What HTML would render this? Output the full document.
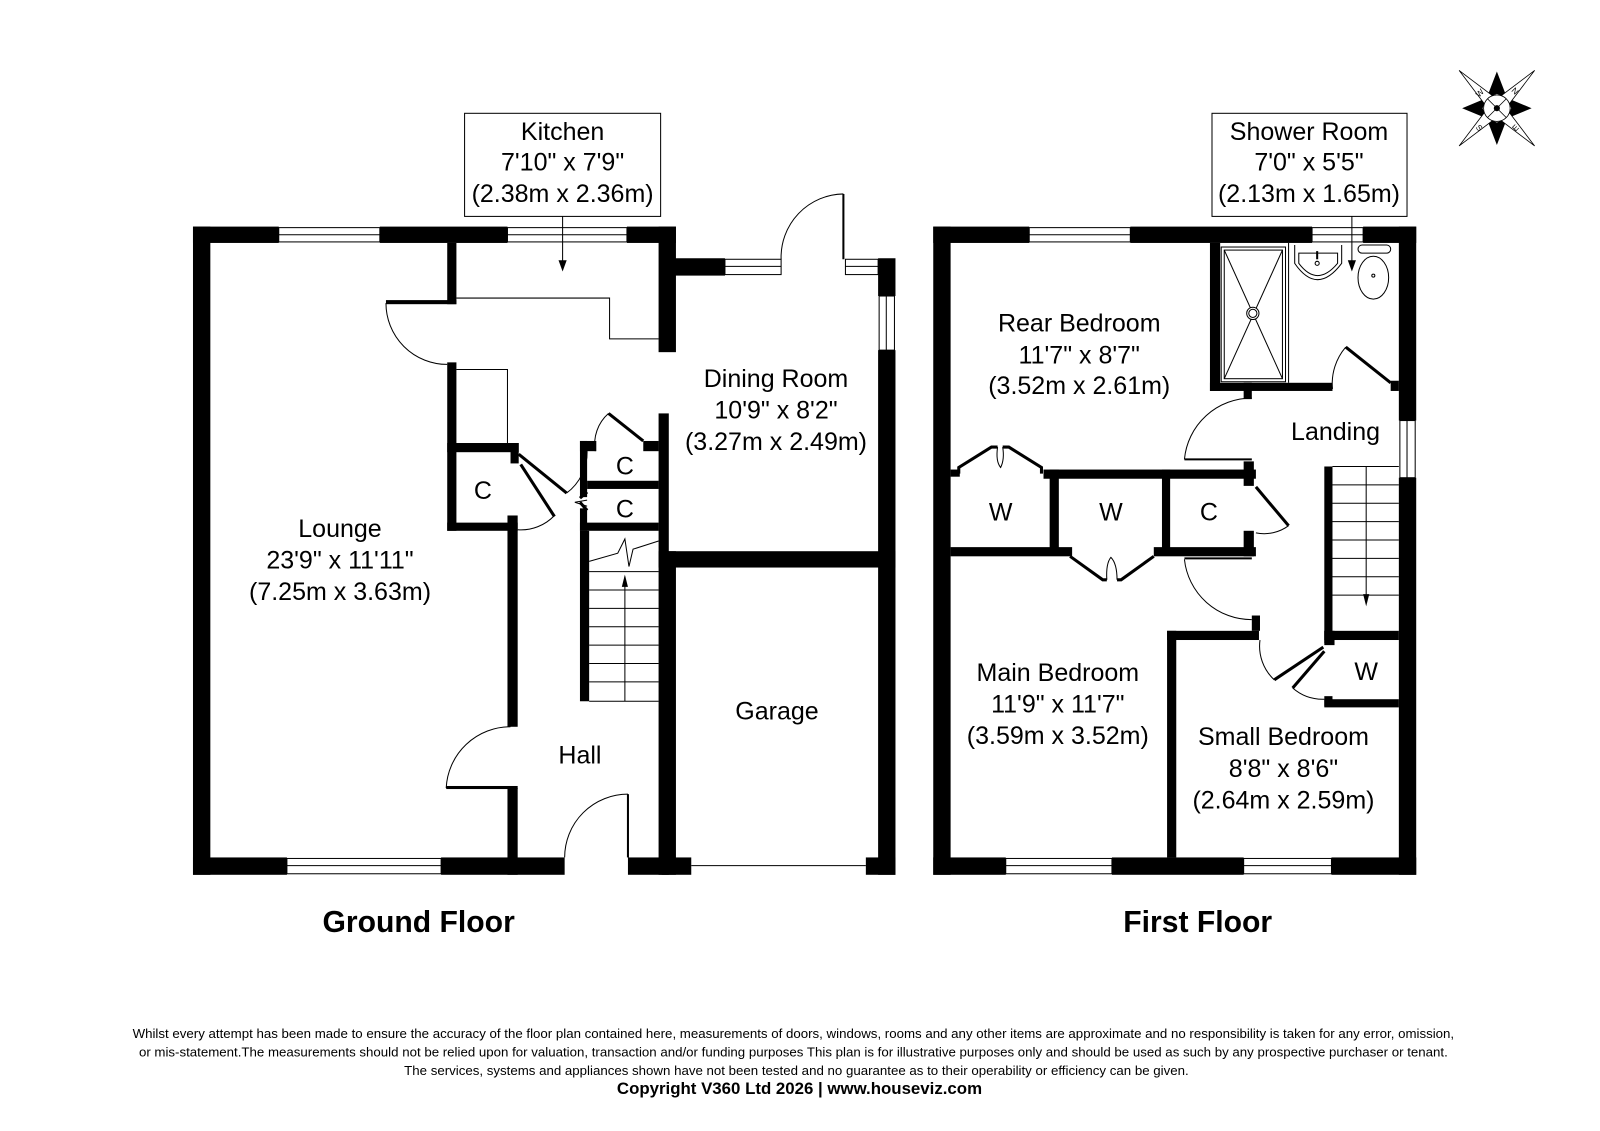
<!DOCTYPE html>
<html><head><meta charset="utf-8"><style>
html,body{margin:0;padding:0;background:#fff;}
svg{display:block;}
text{font-family:"Liberation Sans",sans-serif;fill:#000;}
</style></head><body>
<svg width="1600" height="1131" viewBox="0 0 1567 1108" preserveAspectRatio="none" xmlns="http://www.w3.org/2000/svg">
<rect width="1567" height="1108" fill="#fff"/>
<g fill="#000">
<rect x="189" y="222" width="17" height="635"/>
<rect x="189" y="222" width="84" height="16"/>
<rect x="372" y="222" width="125" height="16"/>
<rect x="614" y="222" width="48" height="16"/>
<rect x="645" y="222" width="17" height="123"/>
<rect x="645" y="405" width="10" height="452"/>
<rect x="655" y="253" width="55" height="17"/>
<rect x="860" y="253" width="17" height="37"/>
<rect x="860" y="343" width="17" height="514"/>
<rect x="645" y="540" width="232" height="16"/>
<rect x="648" y="540" width="14" height="317"/>
<rect x="189" y="840" width="92" height="17"/>
<rect x="432" y="840" width="121" height="17"/>
<rect x="615" y="840" width="62" height="17"/>
<rect x="848" y="840" width="29" height="17"/>
<rect x="438" y="238" width="9" height="60"/>
<rect x="378" y="294" width="69" height="4"/>
<rect x="438" y="355" width="9" height="165"/>
<rect x="438" y="434" width="70" height="9"/>
<rect x="500" y="434" width="8" height="20"/>
<rect x="438" y="512" width="69" height="8"/>
<rect x="497" y="505" width="10" height="207"/>
<rect x="437" y="770" width="70" height="3"/>
<rect x="497" y="772" width="10" height="85"/>
<rect x="568" y="432" width="7" height="55"/>
<rect x="568" y="432" width="16" height="10"/>
<rect x="575" y="471" width="70" height="8"/>
<rect x="568" y="512" width="77" height="8"/>
<rect x="568" y="498" width="7" height="22"/>
<rect x="630" y="432" width="15" height="10"/>
<rect x="568" y="520" width="9" height="167"/>
<rect x="914" y="222" width="17" height="635"/>
<rect x="914" y="222" width="94" height="16"/>
<rect x="1107" y="222" width="178" height="16"/>
<rect x="1335" y="222" width="52" height="16"/>
<rect x="1370" y="222" width="17" height="190"/>
<rect x="1370" y="468" width="17" height="389"/>
<rect x="914" y="840" width="71" height="17"/>
<rect x="1089" y="840" width="129" height="17"/>
<rect x="1304" y="840" width="83" height="17"/>
<rect x="1185" y="238" width="10" height="145"/>
<rect x="1185" y="375" width="120" height="8"/>
<rect x="1218" y="375" width="8" height="16"/>
<rect x="1362" y="373" width="8" height="10"/>
<rect x="1022" y="460" width="208" height="9"/>
<rect x="1218" y="452" width="10" height="24"/>
<rect x="931" y="460" width="9" height="7"/>
<rect x="1028" y="460" width="9" height="77"/>
<rect x="1138" y="460" width="8" height="77"/>
<rect x="931" y="536" width="119" height="9"/>
<rect x="1130" y="536" width="100" height="9"/>
<rect x="1218" y="520" width="10" height="25"/>
<rect x="1226" y="603" width="8" height="15"/>
<rect x="1143" y="618" width="90" height="9"/>
<rect x="1143" y="618" width="9" height="222"/>
<rect x="1297" y="457" width="8" height="173"/>
<rect x="1297" y="618" width="73" height="9"/>
<rect x="1297" y="618" width="10" height="14"/>
<rect x="1297" y="682" width="8" height="10"/>
<rect x="1297" y="685" width="73" height="8"/>
</g>
<g fill="none" stroke="#000" stroke-width="1">
<rect x="273" y="223" width="99" height="14"/><line x1="273" y1="230" x2="372" y2="230"/>
<rect x="497" y="223" width="117" height="14"/><line x1="497" y1="230" x2="614" y2="230"/>
<rect x="710" y="254" width="55" height="15"/><line x1="710" y1="261" x2="765" y2="261"/>
<rect x="828" y="254" width="32" height="15"/><line x1="828" y1="261" x2="860" y2="261"/>
<rect x="861" y="290" width="15" height="53"/><line x1="868" y1="290" x2="868" y2="343"/>
<rect x="281" y="841" width="151" height="15"/><line x1="281" y1="848" x2="432" y2="848"/>
<line x1="677" y1="848" x2="848" y2="848"/>
<path d="M378 297 A60 60 0 0 0 438 357"/>
<line x1="826" y1="190" x2="826" y2="254" stroke-width="2"/>
<path d="M765 254 A62 62 0 0 1 826 190"/>
<path d="M437 772 A63 63 0 0 1 500 712"/>
<path d="M553 840 A62 62 0 0 1 615 778"/>
<line x1="615" y1="778" x2="615" y2="840" stroke-width="2"/>
<path d="M507 519 A45 45 0 0 0 543 505"/>
<line x1="510" y1="455" x2="543" y2="506" stroke-width="3"/>
<line x1="508" y1="445" x2="555" y2="483" stroke-width="3"/>
<path d="M555 483 A50 50 0 0 0 575 442"/>
<path d="M575 496 L563 492 L575 490"/>
<line x1="568" y1="488" x2="575" y2="482" stroke-width="3"/>
<line x1="568" y1="492" x2="575" y2="500" stroke-width="3"/>
<path d="M596 405 A40 40 0 0 0 583 442"/>
<line x1="596" y1="405" x2="630" y2="432" stroke-width="3"/>
<polyline points="447,292 597,292 597,332 645,332"/>
<polyline points="447,362 497,362 497,434"/>
<g>
<line x1="577" y1="560" x2="645" y2="560"/><line x1="577" y1="578" x2="645" y2="578"/>
<line x1="577" y1="596" x2="645" y2="596"/><line x1="577" y1="614" x2="645" y2="614"/>
<line x1="577" y1="632" x2="645" y2="632"/><line x1="577" y1="650" x2="645" y2="650"/>
<line x1="577" y1="668" x2="645" y2="668"/><line x1="577" y1="687" x2="645" y2="687"/>
<polyline points="577,550 605,542 612,528 616,555 620,538 645,530"/>
<line x1="612" y1="687" x2="612" y2="565"/>
</g>
<rect x="455" y="111" width="192" height="101"/>
<line x1="551" y1="212" x2="551" y2="262"/>
<rect x="1187" y="111" width="191" height="101"/>
<line x1="1324" y1="212" x2="1324" y2="262"/>
<rect x="1008" y="223" width="99" height="14"/><line x1="1008" y1="230" x2="1107" y2="230"/>
<rect x="1285" y="223" width="50" height="14"/><line x1="1285" y1="230" x2="1335" y2="230"/>
<rect x="1371" y="412" width="15" height="56"/><line x1="1378" y1="412" x2="1378" y2="468"/>
<rect x="985" y="841" width="104" height="15"/><line x1="985" y1="848" x2="1089" y2="848"/>
<rect x="1218" y="841" width="86" height="15"/><line x1="1218" y1="848" x2="1304" y2="848"/>
<rect x="1196" y="242" width="63" height="132"/>
<rect x="1199" y="245" width="57" height="126"/>
<line x1="1199" y1="245" x2="1256" y2="371"/><line x1="1256" y1="245" x2="1199" y2="371"/>
<circle cx="1227" cy="307" r="6" fill="#fff"/><circle cx="1227" cy="307" r="4"/>
<line x1="1262" y1="238" x2="1262" y2="375"/>
<path d="M1268 240 L1268 258 Q1290 290 1314 258 L1314 240"/>
<path d="M1272 248 L1272 258 Q1290 282 1310 258 L1310 248 Z"/>
<circle cx="1290" cy="258" r="2"/><line x1="1290" y1="246" x2="1290" y2="254" stroke-width="2"/>
<rect x="1330" y="240" width="32" height="8" rx="4"/>
<ellipse cx="1345" cy="272" rx="15" ry="21"/>
<circle cx="1345" cy="270" r="1.5"/>
<path d="M1305 381 A55 55 0 0 1 1318 340"/>
<line x1="1318" y1="340" x2="1362" y2="375" stroke-width="3"/>
<path d="M1160 450 A66 66 0 0 1 1226 390"/>
<line x1="1160" y1="450" x2="1226" y2="450" stroke-width="2"/>
<path d="M1160 548 A66 66 0 0 0 1226 607"/>
<line x1="1160" y1="547" x2="1226" y2="547" stroke-width="2"/>
<line x1="1230" y1="477" x2="1262" y2="515" stroke-width="3"/>
<path d="M1262 515 A40 40 0 0 1 1230 522"/>
<line x1="1248" y1="666" x2="1296" y2="634" stroke-width="3"/>
<path d="M1234 627 A45 45 0 0 0 1248 666"/>
<line x1="1266" y1="674" x2="1297" y2="638" stroke-width="3"/>
<path d="M1266 674 A45 45 0 0 0 1297 685"/>
<polyline points="939,464 939,458 971,438 977,438" stroke-width="3"/>
<polyline points="1020,464 1020,458 988,438 982,438" stroke-width="3"/>
<path d="M977 438 Q975 452 980 458 Q984 450 982 438"/>
<polyline points="1048,545 1080,568 1084,568" stroke-width="3"/>
<polyline points="1130,545 1098,568 1094,568" stroke-width="3"/>
<path d="M1084 568 Q1083 552 1088 546 Q1094 552 1094 568"/>
<line x1="1305" y1="457" x2="1370" y2="457"/>
<line x1="1305" y1="475" x2="1370" y2="475"/><line x1="1305" y1="493" x2="1370" y2="493"/>
<line x1="1305" y1="511" x2="1370" y2="511"/><line x1="1305" y1="529" x2="1370" y2="529"/>
<line x1="1305" y1="547" x2="1370" y2="547"/><line x1="1305" y1="565" x2="1370" y2="565"/>
<line x1="1305" y1="583" x2="1370" y2="583"/>
<line x1="1338" y1="457" x2="1338" y2="590"/>
</g>
<g fill="#000">
<polygon points="547,255 555,255 551,266"/>
<polygon points="1320,255 1328,255 1324,266"/>
<polygon points="609,575 615,575 612,563"/>
<polygon points="1335,582 1341,582 1338,594"/>
</g>
<g transform="translate(1466,106)">
<polygon points="0,-36 -10,-10 0,-14 10,-10" fill="#000"/>
<polygon points="0,36 -10,10 0,14 10,10" fill="#000"/>
<polygon points="-34,0 -10,-10 -14,0 -10,10" fill="#000"/>
<polygon points="34,0 10,-10 14,0 10,10" fill="#000"/>
<g fill="#fff" stroke="#000" stroke-width="0.8">
<polygon points="-37,-37 -4,-12 -12,-4"/>
<polygon points="37,-37 4,-12 12,-4"/>
<polygon points="-37,37 -4,12 -12,4"/>
<polygon points="37,37 4,12 12,4"/>
<circle r="13"/>
<line x1="-9" y1="-9" x2="9" y2="9"/><line x1="9" y1="-9" x2="-9" y2="9"/>
</g>
<circle r="3" fill="#000"/>
<text x="-17" y="-12" font-size="8" text-anchor="middle" transform="rotate(-45 -17 -15)">W</text>
<text x="18" y="-14" font-size="8" text-anchor="middle" transform="rotate(45 18 -17)">N</text>
<text x="-17" y="22" font-size="8" text-anchor="middle" transform="rotate(45 -17 19)">S</text>
<text x="18" y="22" font-size="8" text-anchor="middle" transform="rotate(-45 18 19)">E</text>
</g>
<g font-size="24.5" text-anchor="middle">
<text x="551" y="137">Kitchen</text><text x="551" y="167">7'10" x 7'9"</text><text x="551" y="198">(2.38m x 2.36m)</text>
<text x="1282" y="137">Shower Room</text><text x="1282" y="167">7'0" x 5'5"</text><text x="1282" y="198">(2.13m x 1.65m)</text>
<text x="760" y="379">Dining Room</text><text x="760" y="410">10'9" x 8'2"</text><text x="760" y="441">(3.27m x 2.49m)</text>
<text x="333" y="526">Lounge</text><text x="333" y="557">23'9" x 11'11"</text><text x="333" y="588">(7.25m x 3.63m)</text>
<text x="473" y="489">C</text><text x="612" y="465">C</text><text x="612" y="507">C</text>
<text x="761" y="705">Garage</text>
<text x="568" y="748">Hall</text>
<text x="1057" y="325">Rear Bedroom</text><text x="1057" y="356">11'7" x 8'7"</text><text x="1057" y="386">(3.52m x 2.61m)</text>
<text x="1308" y="431">Landing</text>
<text x="980" y="510">W</text><text x="1088" y="510">W</text><text x="1184" y="510">C</text>
<text x="1338" y="666">W</text>
<text x="1036" y="667">Main Bedroom</text><text x="1036" y="698">11'9" x 11'7"</text><text x="1036" y="729">(3.59m x 3.52m)</text>
<text x="1257" y="730">Small Bedroom</text><text x="1257" y="761">8'8" x 8'6"</text><text x="1257" y="792">(2.64m x 2.59m)</text>
</g>
<g font-size="29.5" font-weight="bold" text-anchor="middle">
<text x="410" y="913">Ground Floor</text>
<text x="1173" y="913">First Floor</text>
</g>
<g font-size="13" text-anchor="middle">
<text x="777" y="1017">Whilst every attempt has been made to ensure the accuracy of the floor plan contained here, measurements of doors, windows, rooms and any other items are approximate and no responsibility is taken for any error, omission,</text>
<text x="777" y="1035">or mis-statement.The measurements should not be relied upon for valuation, transaction and/or funding purposes This plan is for illustrative purposes only and should be used as such by any prospective purchaser or tenant.</text>
<text x="780" y="1053">The services, systems and appliances shown have not been tested and no guarantee as to their operability or efficiency can be given.</text>
<text x="783" y="1072" font-size="16.5" font-weight="bold">Copyright V360 Ltd 2026 | www.houseviz.com</text>
</g>
</svg>
</body></html>
